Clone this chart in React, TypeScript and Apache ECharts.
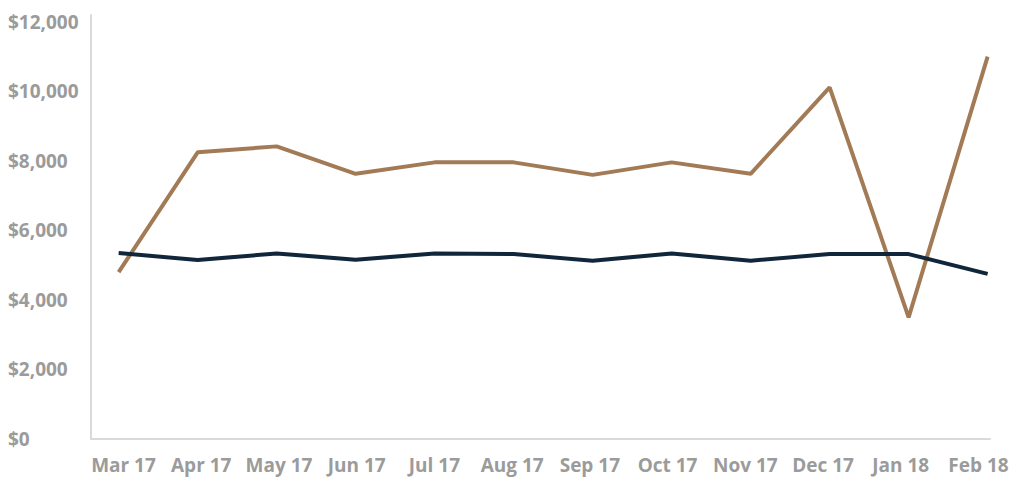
import * as echarts from "echarts";
import { useEffect, useRef } from "react";

const MONTHS = [
  "Mar 17", "Apr 17", "May 17", "Jun 17", "Jul 17", "Aug 17",
  "Sep 17", "Oct 17", "Nov 17", "Dec 17", "Jan 18", "Feb 18",
];
const BROWN_VALUES = [4800, 8250, 8420, 7630, 7960, 7960, 7600, 7960, 7630, 10120, 3500, 11000];
const NAVY_VALUES = [5350, 5150, 5340, 5160, 5340, 5320, 5130, 5340, 5130, 5320, 5320, 4750];
const Y_TICKS = [0, 2000, 4000, 6000, 8000, 10000, 12000];

const LABEL_COLOR = "#9b9b9b";
const AXIS_COLOR = "#dadada";
const LABEL_FONT = { color: LABEL_COLOR, fontFamily: "Open Sans", fontWeight: 700, fontSize: 19 };

function formatDollars(value: number): string {
  return "$" + value.toLocaleString("en-US");
}

export default function App() {
  const containerRef = useRef<HTMLDivElement>(null);

  useEffect(() => {
    const container = containerRef.current;
    if (!container) {
      return;
    }
    document.body.style.margin = "0";
    const chart = echarts.init(container, null, { renderer: "svg" });

    // grid 0 holds the lines; grid 1 only carries the month labels,
    // which sit on a slightly narrower span than the data points
    const option: echarts.EChartsOption = {
      animation: false,
      grid: [
        { left: 91, right: 34, top: 15, bottom: 44 },
        { left: 123.5, right: 45.5, top: 15, bottom: 44 },
      ],
      xAxis: [
        {
          type: "value",
          gridIndex: 0,
          min: -0.35,
          max: 11.03,
          splitLine: { show: false },
          axisTick: { show: false },
          axisLabel: { show: false },
          axisLine: { show: true, onZero: false, lineStyle: { color: AXIS_COLOR, width: 2 } },
        },
        {
          type: "category",
          gridIndex: 1,
          data: MONTHS,
          boundaryGap: false,
          axisLine: { show: false },
          axisTick: { show: false },
          splitLine: { show: false },
          axisLabel: { ...LABEL_FONT, margin: 16, interval: 0 },
        },
      ],
      yAxis: [
        {
          type: "value",
          gridIndex: 0,
          min: 0,
          max: 12200,
          splitLine: { show: false },
          axisTick: { show: false },
          axisLine: { show: true, onZero: false, lineStyle: { color: AXIS_COLOR, width: 2 } },
          axisLabel: {
            ...LABEL_FONT,
            align: "left",
            margin: 83,
            customValues: Y_TICKS,
            formatter: (value: number) => formatDollars(value),
          },
        },
        {
          type: "value",
          gridIndex: 1,
          show: false,
        },
      ],
      series: [
        {
          name: "Brown",
          type: "line",
          xAxisIndex: 0,
          yAxisIndex: 0,
          data: BROWN_VALUES.map((v, i) => [i, v]),
          showSymbol: false,
          lineStyle: { color: "#a27b56", width: 4 },
          z: 2,
        },
        {
          name: "Navy",
          type: "line",
          xAxisIndex: 0,
          yAxisIndex: 0,
          data: NAVY_VALUES.map((v, i) => [i, v]),
          showSymbol: false,
          lineStyle: { color: "#10263a", width: 4 },
          z: 3,
        },
      ],
    };
    chart.setOption(option);

    return () => {
      chart.dispose();
    };
  }, []);

  return <div ref={containerRef} style={{ width: 1024, height: 483 }} />;
}
